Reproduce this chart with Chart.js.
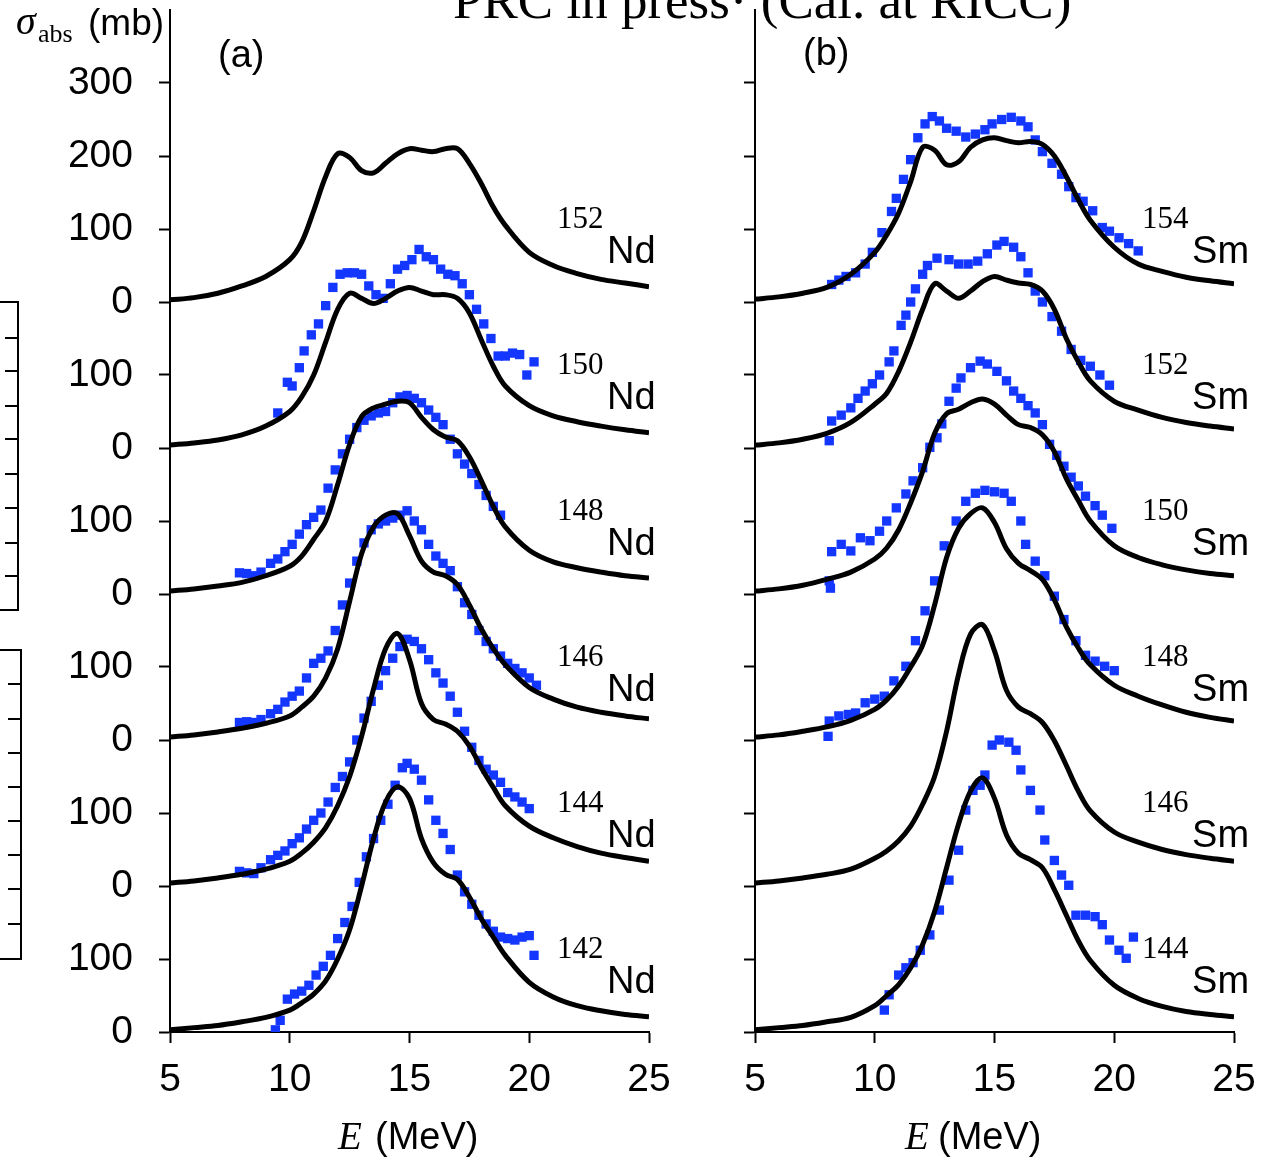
<!DOCTYPE html>
<html>
<head>
<meta charset="utf-8">
<script src="https://cdn.jsdelivr.net/npm/chart.js@4"></script>
<style>
  html, body { margin: 0; padding: 0; background: #fff; }
  body { width: 1271px; height: 1164px; position: relative; overflow: hidden; }
  canvas { position: absolute; top: 0; }
  .t { position: absolute; white-space: nowrap; color: #000; line-height: 1; }
  .sans { font-family: "Liberation Sans", Arial, sans-serif; }
  .serif { font-family: "Liberation Serif", "Times New Roman", serif; }
  .box { position: absolute; border: 2px solid #000; }
  .tk { position: absolute; height: 2px; background: #000; }
</style>
</head>
<body>
<canvas id="panelA" width="700" height="1164" style="left:0"></canvas>
<canvas id="panelB" width="571" height="1164" style="left:700px"></canvas>

<div class="t serif" style="left:453px;top:-26px;font-size:53px">PRC in press· (Cal. at RICC)</div>
<div class="t serif" style="left:16px;top:1px;font-size:40px;font-style:italic">σ</div>
<div class="t serif" style="left:38px;top:21px;font-size:26px">abs</div>
<div class="t sans" style="left:88px;top:4px;font-size:37px">(mb)</div>
<div class="t sans" style="left:218px;top:35px;font-size:38px">(a)</div>
<div class="t sans" style="left:803px;top:33px;font-size:38px">(b)</div>
<div class="t serif" style="left:338px;top:1116px;font-size:39px;font-style:italic">E</div>
<div class="t sans" style="left:375px;top:1117px;font-size:38px">(MeV)</div>
<div class="t serif" style="left:905px;top:1116px;font-size:39px;font-style:italic">E</div>
<div class="t sans" style="left:938px;top:1117px;font-size:38px">(MeV)</div>

<div id="frag"></div>

<script>
'use strict';

// ─── Datos ────────────────────────────────────────────────────────────────────
// Energia (MeV) de la malla de las curvas teoricas
const E_GRID = [5, 6, 7, 8, 9, 10, 10.5, 11, 11.5, 12, 12.5, 13, 13.5, 14, 14.5,
                15, 15.5, 16, 16.5, 17, 17.5, 18, 18.5, 19, 20, 21, 22, 23, 24, 25];

// Curvas calculadas sigma_abs (mb), panel (a) Nd
const nd142Curve = [3, 6, 9, 14, 20, 30, 40, 52, 70, 100, 140, 200, 265, 315, 336, 320, 265, 232, 216, 209, 185, 155, 130, 105, 68, 48, 36, 29, 24, 21];
const nd144Curve = [4, 7, 11, 16, 23, 34, 45, 60, 80, 110, 150, 205, 270, 325, 346, 310, 250, 228, 222, 212, 192, 162, 135, 110, 82, 66, 54, 45, 39, 34];
const nd146Curve = [4, 7, 11, 16, 23, 33, 45, 60, 85, 125, 190, 255, 292, 308, 310, 280, 245, 230, 225, 213, 185, 152, 125, 103, 72, 56, 45, 38, 33, 29];
const nd148Curve = [4, 7, 11, 16, 25, 38, 52, 75, 100, 150, 205, 243, 255, 260, 264, 262, 242, 225, 215, 210, 188, 155, 120, 92, 60, 44, 36, 30, 25, 22];
const nd150Curve = [4, 7, 11, 18, 30, 50, 70, 100, 145, 190, 212, 205, 198, 205, 215, 220, 215, 210, 210, 205, 185, 148, 112, 85, 58, 44, 36, 30, 25, 21];
const nd152Curve = [3, 6, 12, 22, 35, 58, 82, 125, 172, 203, 198, 180, 177, 190, 203, 210, 208, 206, 210, 210, 190, 162, 130, 105, 68, 50, 39, 31, 26, 21];

// Curvas calculadas, panel (b) Sm
const sm144Curve = [3, 6, 9, 14, 20, 36, 50, 65, 88, 120, 165, 225, 285, 330, 348, 320, 270, 245, 236, 225, 195, 160, 125, 98, 64, 46, 35, 28, 24, 21];
const sm146Curve = [4, 7, 11, 16, 23, 38, 48, 62, 82, 112, 150, 212, 290, 345, 358, 322, 268, 245, 236, 224, 199, 165, 130, 103, 74, 60, 50, 43, 38, 34];
const sm148Curve = [4, 7, 12, 18, 27, 42, 55, 74, 100, 130, 185, 250, 290, 310, 318, 298, 262, 242, 232, 220, 192, 155, 126, 103, 75, 60, 48, 38, 31, 26];
const sm150Curve = [4, 7, 12, 20, 30, 48, 63, 88, 125, 168, 220, 247, 253, 262, 267, 260, 245, 232, 228, 218, 195, 158, 128, 100, 66, 50, 40, 33, 28, 25];
const sm152Curve = [4, 7, 12, 20, 35, 60, 75, 105, 145, 190, 225, 215, 205, 215, 228, 235, 230, 226, 224, 215, 190, 150, 118, 92, 64, 52, 42, 35, 30, 26];
const sm154Curve = [4, 7, 12, 20, 38, 68, 92, 122, 165, 212, 208, 188, 192, 212, 222, 225, 221, 218, 220, 216, 200, 172, 140, 112, 75, 52, 42, 34, 29, 25];

// Datos experimentales: energia (MeV) y sigma_abs (mb)
const nd142ExpE = [9.4, 9.6, 9.9, 10.2, 10.5, 10.8, 11.1, 11.4, 11.7, 12.0, 12.3, 12.6, 12.9, 13.2, 13.5, 13.8, 14.1, 14.4, 14.7, 14.9, 15.2, 15.5, 15.8, 16.1, 16.4, 16.7, 17.0, 17.3, 17.6, 17.9, 18.2, 18.5, 18.8, 19.1, 19.4, 19.7, 20.0, 20.2];
const nd142ExpS = [3, 16, 45, 52, 56, 64, 78, 90, 105, 128, 150, 172, 205, 240, 265, 290, 312, 338, 362, 368, 360, 345, 318, 290, 272, 250, 215, 192, 175, 160, 148, 138, 130, 128, 126, 130, 132, 105];

const nd144ExpE = [7.9, 8.2, 8.5, 8.8, 9.2, 9.5, 9.8, 10.1, 10.4, 10.7, 11.0, 11.3, 11.6, 11.9, 12.2, 12.5, 12.8, 13.1, 13.4, 13.7, 14.0, 14.3, 14.6, 14.9, 15.2, 15.5, 15.8, 16.1, 16.4, 16.7, 17.0, 17.3, 17.6, 17.9, 18.2, 18.5, 18.8, 19.1, 19.4, 19.7, 20.0];
const nd144ExpS = [20, 18, 17, 25, 36, 42, 48, 58, 66, 78, 90, 100, 115, 135, 150, 170, 200, 230, 253, 275, 295, 312, 328, 338, 335, 325, 310, 292, 278, 260, 238, 212, 190, 172, 160, 152, 142, 128, 122, 115, 106];

const nd146ExpE = [7.9, 8.2, 8.5, 8.8, 9.2, 9.5, 9.8, 10.1, 10.4, 10.7, 11.0, 11.3, 11.6, 11.9, 12.2, 12.5, 12.8, 13.1, 13.4, 13.7, 14.0, 14.3, 14.6, 14.9, 15.2, 15.5, 15.8, 16.1, 16.4, 16.7, 17.0, 17.3, 17.6, 17.9, 18.2, 18.5, 18.8, 19.1, 19.4, 19.7, 20.0, 20.3];
const nd146ExpS = [24, 25, 24, 28, 36, 42, 52, 60, 67, 85, 105, 112, 122, 150, 185, 215, 245, 270, 288, 296, 300, 304, 308, 314, 300, 288, 268, 252, 242, 232, 210, 188, 172, 150, 135, 125, 115, 105, 98, 92, 85, 75];

const nd148ExpE = [7.9, 8.2, 8.5, 8.8, 9.2, 9.5, 9.8, 10.1, 10.4, 10.7, 11.0, 11.3, 11.6, 11.9, 12.2, 12.5, 12.8, 13.1, 13.4, 13.7, 14.0, 14.3, 14.6, 14.9, 15.2, 15.5, 15.8, 16.1, 16.4, 16.7, 17.0, 17.3, 17.6, 17.9, 18.2, 18.5, 18.8];
const nd148ExpS = [29, 28, 25, 30, 42, 48, 58, 68, 82, 95, 105, 115, 145, 170, 192, 212, 228, 238, 244, 248, 250, 262, 270, 272, 268, 262, 252, 242, 232, 212, 192, 178, 165, 150, 135, 120, 108];

const nd150ExpE = [9.5, 9.9, 10.1, 10.4, 10.6, 10.9, 11.2, 11.5, 11.8, 12.1, 12.4, 12.7, 13.0, 13.3, 13.6, 13.9, 14.2, 14.5, 14.8, 15.1, 15.4, 15.7, 16.0, 16.3, 16.6, 16.9, 17.2, 17.5, 17.8, 18.1, 18.4, 18.7, 19.0, 19.3, 19.6, 19.9, 20.2];
const nd150ExpS = [48, 90, 85, 110, 133, 155, 170, 195, 220, 238, 240, 240, 238, 222, 210, 205, 225, 245, 250, 258, 272, 262, 258, 245, 238, 236, 225, 210, 190, 170, 150, 126, 126, 130, 128, 100, 118];

const sm144ExpE = [10.4, 10.6, 11.0, 11.3, 11.6, 11.9, 12.3, 12.7, 13.1, 13.5, 13.8, 14.1, 14.4, 14.6, 14.9, 15.2, 15.6, 15.9, 16.1, 16.5, 16.9, 17.1, 17.5, 17.8, 18.1, 18.4, 18.8, 19.2, 19.5, 19.8, 20.2, 20.5, 20.8];
const sm144ExpS = [30, 51, 78, 88, 95, 112, 133, 167, 208, 249, 304, 331, 338, 352, 393, 400, 397, 386, 359, 331, 304, 263, 235, 215, 201, 160, 160, 158, 147, 126, 112, 101, 130];

const sm148ExpE = [8.05, 8.1, 8.5, 8.9, 9.2, 9.6, 10.0, 10.4, 10.8, 11.3, 11.7, 12.1, 12.5, 12.9, 13.4, 13.8, 14.2, 14.6, 15.0, 15.4, 15.7, 16.1, 16.3, 16.7, 17.1, 17.5, 17.9, 18.4, 18.8, 19.2, 19.6, 20.0];
const sm148ExpS = [5, 26, 33, 35, 37, 51, 56, 60, 81, 101, 136, 177, 218, 266, 300, 327, 338, 342, 340, 338, 327, 300, 268, 245, 225, 197, 165, 136, 116, 108, 101, 95];

const sm150ExpE = [8.1, 8.15, 8.2, 8.6, 9.0, 9.4, 9.8, 10.2, 10.5, 10.9, 11.3, 11.6, 12.0, 12.3, 12.6, 12.8, 13.1, 13.4, 13.6, 14.0, 14.4, 14.7, 15.1, 15.5, 15.8, 16.1, 16.4, 16.7, 17.0, 17.3, 17.6, 17.9, 18.2, 18.5, 18.8, 19.2, 19.5, 19.9];
const sm150ExpS = [18, 8, 58, 68, 59, 77, 73, 86, 100, 118, 137, 155, 173, 201, 214, 233, 264, 282, 296, 310, 319, 315, 305, 292, 278, 268, 258, 248, 232, 205, 190, 175, 160, 148, 134, 121, 108, 90];

const sm152ExpE = [8.1, 8.2, 8.6, 9.0, 9.3, 9.6, 9.9, 10.2, 10.6, 10.8, 11.1, 11.3, 11.5, 11.7, 12.0, 12.2, 12.6, 13.1, 13.5, 13.9, 14.3, 14.7, 15.1, 15.4, 15.8, 16.1, 16.4, 16.7, 17.0, 17.4, 17.8, 18.2, 18.6, 19.0, 19.4, 19.8];
const sm152ExpS = [10, 37, 45, 55, 68, 78, 88, 100, 118, 133, 168, 182, 200, 218, 238, 250, 260, 258, 252, 252, 256, 266, 278, 283, 275, 262, 240, 215, 200, 180, 160, 135, 120, 112, 100, 86];

const sm154ExpE = [8.2, 8.5, 8.8, 9.2, 9.6, 9.9, 10.3, 10.7, 10.9, 11.2, 11.5, 11.8, 12.1, 12.4, 12.7, 13.0, 13.4, 13.8, 14.2, 14.6, 14.9, 15.3, 15.7, 16.1, 16.4, 16.7, 17.0, 17.4, 17.8, 18.1, 18.4, 18.7, 19.1, 19.5, 19.8, 20.2, 20.6, 21.0];
const sm154ExpS = [24, 30, 35, 40, 52, 68, 95, 124, 142, 168, 195, 225, 244, 254, 248, 238, 234, 226, 230, 236, 244, 250, 253, 248, 240, 222, 206, 190, 175, 158, 143, 138, 125, 102, 97, 88, 80, 70];

// Numeros masicos y desplazamiento vertical de cada curva (mb)
const STACK_STEP = 200;
const ndMasses = ['142', '144', '146', '148', '150', '152'];
const smMasses = ['144', '146', '148', '150', '152', '154'];

// ─── Helpers ─────────────────────────────────────────────────────────────────

const BLUE = '#1437ff';

function pts(xs, ys, off) {
  return xs.map(function(x, i) { return { x: x, y: ys[i] + off }; });
}

function curveDs(ys, k) {
  return {
    data: pts(E_GRID, ys, k * STACK_STEP),
    showLine: true, borderColor: '#000', borderWidth: 5,
    pointRadius: 0, tension: 0.35, fill: false, order: 0,
  };
}

function expDs(xs, ys, k) {
  return {
    data: pts(xs, ys, k * STACK_STEP),
    showLine: false, pointStyle: 'rect', pointRadius: 6.6,
    pointBackgroundColor: BLUE, pointBorderWidth: 0, borderWidth: 0, order: 1,
  };
}

function yLabel(v) {
  if (v >= 1400) return '';
  if (v >= 1100) return String(v - 1000);
  return String(v % 200);
}

// Quita el relleno automatico que Chart.js reserva para las etiquetas
function fixScale(size, key) {
  return function(s) {
    s[key] = size;
    s.paddingTop = 0; s.paddingBottom = 0; s.paddingLeft = 0; s.paddingRight = 0;
  };
}

// Etiquetas de isotopos (numero masico + simbolo) junto a cada curva
const isoLabels = {
  id: 'isoLabels',
  afterDraw: function(chart, args, opts) {
    const ctx = chart.ctx, x = chart.scales.x, y = chart.scales.y;
    ctx.save();
    ctx.fillStyle = '#000';
    ctx.textBaseline = 'alphabetic';
    opts.masses.forEach(function(m, k) {
      const off = k * STACK_STEP;
      ctx.font = '31px "Liberation Serif"';
      ctx.fillText(m, x.getPixelForValue(21.16), y.getPixelForValue(off + 102));
      ctx.font = '38px "Liberation Sans"';
      ctx.fillText(opts.symbol, x.getPixelForValue(23.25), y.getPixelForValue(off + 54));
    });
    ctx.restore();
  },
};

function makePanel(id, datasets, opts) {
  return new Chart(document.getElementById(id).getContext('2d'), {
    type: 'scatter',
    data: { datasets: datasets },
    plugins: [isoLabels],
    options: {
      responsive: false,
      devicePixelRatio: 1,
      animation: false,
      layout: { padding: { top: 10, right: opts.padRight, bottom: 0, left: 0 } },
      plugins: {
        legend: { display: false },
        tooltip: { enabled: false },
        isoLabels: { masses: opts.masses, symbol: opts.symbol },
      },
      scales: {
        x: {
          type: 'linear', min: 5, max: 25,
          afterFit: fixScale(132, 'height'),
          ticks: { stepSize: 5, color: '#000', padding: 14, maxRotation: 0,
                   font: { family: '"Liberation Sans"', size: 39 } },
          grid: { drawOnChartArea: false, tickLength: 11, tickWidth: 2, tickColor: '#000' },
          border: { color: '#000', width: 2 },
        },
        y: {
          type: 'linear', min: 0, max: 1400,
          afterFit: fixScale(opts.axisW, 'width'),
          ticks: { stepSize: 100, color: '#000', padding: 26,
                   font: { family: '"Liberation Sans"', size: 39 },
                   callback: opts.showY ? yLabel : function() { return ''; } },
          grid: { drawOnChartArea: false, tickLength: 11, tickWidth: 2,
                  tickColor: function(c) { return c.tick && c.tick.value >= 1400 ? 'rgba(0,0,0,0)' : '#000'; } },
          border: { color: '#000', width: 2 },
        },
      },
    },
  });
}

// ─── Series ───────────────────────────────────────────────────────────────────

const ndSets = [
  curveDs(nd142Curve, 0), curveDs(nd144Curve, 1), curveDs(nd146Curve, 2),
  curveDs(nd148Curve, 3), curveDs(nd150Curve, 4), curveDs(nd152Curve, 5),
  expDs(nd142ExpE, nd142ExpS, 0), expDs(nd144ExpE, nd144ExpS, 1),
  expDs(nd146ExpE, nd146ExpS, 2), expDs(nd148ExpE, nd148ExpS, 3),
  expDs(nd150ExpE, nd150ExpS, 4),
];

const smSets = [
  curveDs(sm144Curve, 0), curveDs(sm146Curve, 1), curveDs(sm148Curve, 2),
  curveDs(sm150Curve, 3), curveDs(sm152Curve, 4), curveDs(sm154Curve, 5),
  expDs(sm144ExpE, sm144ExpS, 0), expDs(sm148ExpE, sm148ExpS, 2),
  expDs(sm150ExpE, sm150ExpS, 3), expDs(sm152ExpE, sm152ExpS, 4),
  expDs(sm154ExpE, sm154ExpS, 5),
];

makePanel('panelA', ndSets, { padRight: 51, axisW: 170, showY: true, masses: ndMasses, symbol: 'Nd' });
makePanel('panelB', smSets, { padRight: 37, axisW: 55, showY: false, masses: smMasses, symbol: 'Sm' });

// ─── Restos de la figura vecina en el borde izquierdo ─────────────────────────

(function() {
  const frag = document.getElementById('frag');
  const boxes = [
    { top: 301, h: 306, right: 17, tl: 12, ticks: [337, 370, 405, 438, 473, 507, 542, 575] },
    { top: 649, h: 307, right: 20, tl: 12, ticks: [683, 718, 752, 786, 820, 854, 888, 923] },
  ];
  boxes.forEach(function(b) {
    const d = document.createElement('div');
    d.className = 'box';
    d.style.left = (b.right - 40) + 'px';
    d.style.width = '38px';
    d.style.top = b.top + 'px';
    d.style.height = b.h + 'px';
    frag.appendChild(d);
    b.ticks.forEach(function(t) {
      const k = document.createElement('div');
      k.className = 'tk';
      k.style.left = (b.right - b.tl) + 'px';
      k.style.width = b.tl + 'px';
      k.style.top = t + 'px';
      frag.appendChild(k);
    });
  });
})();
</script>
</body>
</html>
